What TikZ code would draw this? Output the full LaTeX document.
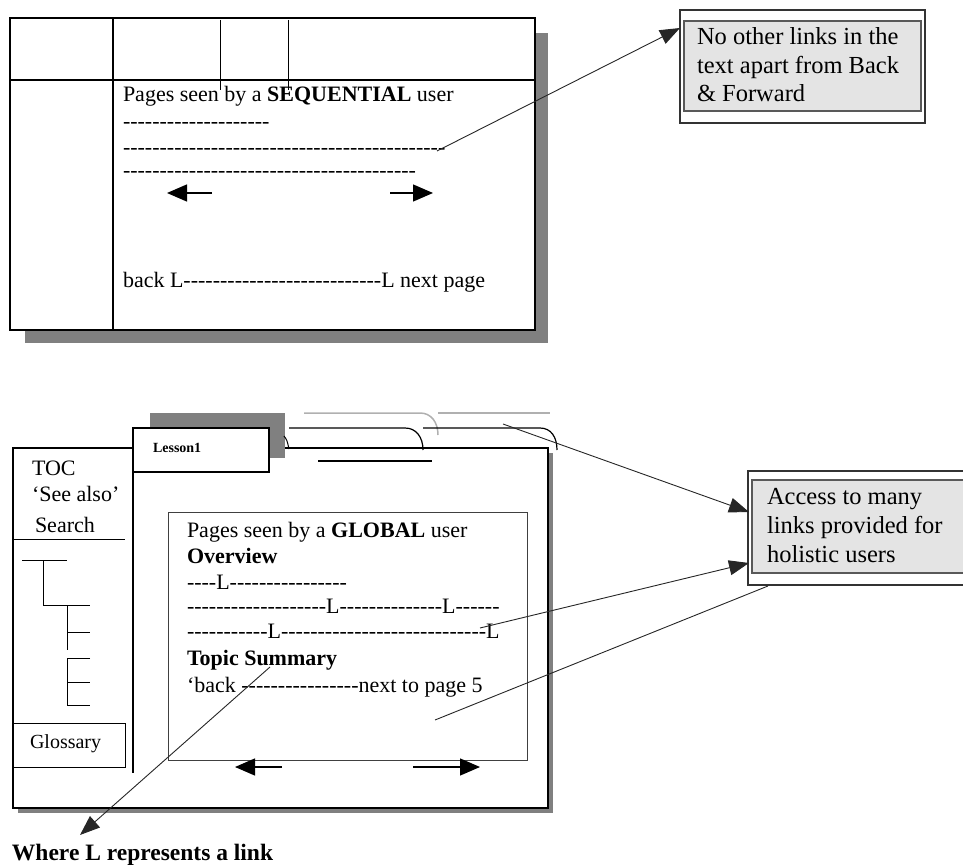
\documentclass[tikz,border=0pt]{standalone}
\usepackage{fontspec}
\setmainfont{Liberation Serif}
\usetikzlibrary{arrows.meta}
\ExplSyntaxOn
\cs_new:Npn \hyrun #1 {\prg_replicate:nn{#1}{-\kern0pt}}
\ExplSyntaxOff
\definecolor{shadowc}{RGB}{128,128,128}
\definecolor{tabgray}{RGB}{176,176,176}
\definecolor{calloutfill}{RGB}{228,228,228}
\begin{document}
\begin{tikzpicture}[x=1pt,y=-1pt,
  frame/.style={draw=black, line width=1.3pt},
  thinframe/.style={draw=black, line width=1pt},
  innerframe/.style={draw=black!75, line width=1pt},
  txt/.style={anchor=base west, inner sep=0pt, outer sep=0pt, font=\fontsize{22}{26}\selectfont},
  smalltxt/.style={txt, font=\fontsize{20}{24}\selectfont},
  ctxt/.style={txt, font=\fontsize{24.5}{29}\selectfont},
  conn/.style={draw=black!85, line width=0.9pt},
  tip/.style={-{Triangle[length=20pt,width=15pt]}},
  bigarrow/.style={draw=black, line width=1.3pt, -{Triangle[length=20pt,width=17pt]}},
  coutbox/.style={draw=black!80, line width=1.5pt, fill=white},
  cinbox/.style={draw=black!65, line width=1.2pt, fill=calloutfill},
  tabline/.style={draw=black, line width=1.2pt},
  tabgrayline/.style={draw=tabgray, line width=1.5pt}
]
\useasboundingbox (0,0) rectangle (963,866);
\clip (0,0) rectangle (963,866);

% ===== Top window (sequential) =====
\fill[shadowc] (25,33) rectangle (548,343);
\draw[frame, fill=white] (10,18) rectangle (535,330);
\draw[frame] (113,18) -- (113,330);
\draw[frame] (10,80) -- (535,80);
\draw[thinframe] (220,20) -- (220,90);
\draw[thinframe] (288,20) -- (288,90);

\node[txt] (seqtitle) at (123,102) {Pages seen by a \textbf{SEQUENTIAL} user};
\node[txt] (seqd1) at (123,129) {\hyrun{20}};
\node[txt] (seqd2) at (123,155) {\hyrun{44}};
\node[txt] (seqd3) at (123,178) {\hyrun{40}};
\node[txt] (seqback) at (123,288) {back L\hyrun{27}L next page};

\coordinate (sla) at (212,193);
\coordinate (slb) at (167,193);
\coordinate (sra) at (390,193);
\coordinate (srb) at (433,193);
\draw[bigarrow] (sla) -- (slb);
\draw[bigarrow] (sra) -- (srb);

% ===== Callout 1 =====
\draw[coutbox] (680,10) rectangle (925,123);
\draw[cinbox] (684,21) rectangle (921,111);
\node[ctxt] (c1l1) at (697,45) {No other links in the};
\node[ctxt] (c1l2) at (697,74) {text apart from Back};
\node[ctxt] (c1l3) at (697,102) {\& Forward};

\coordinate (c1from) at (437,151);
\coordinate (c1to) at (680,28);
\draw[conn, tip] (c1from) -- (c1to);

% ===== Bottom window (global) =====
\fill[shadowc] (18,453) rectangle (553,813);
\draw[frame, fill=white] (13,448) rectangle (548,808);

% tabs behind
\fill[shadowc] (150,413) rectangle (285,458);
\draw[tabgrayline] (304,413) -- (420,413) .. controls (431,413) and (438,422) .. (438,435);
\draw[tabgrayline] (438,413) -- (550,413);
\draw[tabline] (289,428) -- (405,428) .. controls (416,428) and (423,437) .. (423,450);
\draw[tabline] (423,428) -- (540,428) .. controls (551,428) and (557,437) .. (557,450);
\draw[tabline] (318,461) -- (432,461);
\draw[thinframe] (284,436) .. controls (287,440) .. (289,449);

% Lesson tab
\draw[frame, fill=white] (133,428) rectangle (269,472);
\node[txt, font=\fontsize{14}{16}\selectfont\bfseries] (lesson) at (153,452) {Lesson1};

% TOC panel
\draw[frame] (133,472) -- (133,773);
\node[txt] (toc) at (32,475) {TOC};
\node[txt] (seealso) at (32,501) {‘See also’};
\node[txt] (search) at (35,532) {Search};
\draw[thinframe] (13,539) -- (125,539);
% tree
\draw[thinframe] (22,560) -- (67,560);
\draw[thinframe] (43,560) -- (43,605) -- (90,605);
\draw[thinframe] (67,605) -- (67,650);
\draw[thinframe] (67,632) -- (90,632);
\draw[thinframe] (90,658) -- (67,658) -- (67,705) -- (90,705);
\draw[thinframe] (67,682) -- (90,682);
% Glossary
\draw[thinframe] (13,723) rectangle (125,767);
\node[smalltxt] (glossary) at (30,748) {Glossary};

% inner page
\draw[innerframe] (168,512) rectangle (527,760);
\node[txt] (gtitle) at (187,537) {Pages seen by a \textbf{GLOBAL} user};
\node[txt, font=\fontsize{22}{26}\selectfont\bfseries] (overview) at (187,563) {Overview};
\node[txt] (gl1) at (187,589) {\hyrun{4}L\hyrun{16}};
\node[txt] (gl2) at (187,613) {\hyrun{19}L\hyrun{14}L\hyrun{6}};
\node[txt] (gl3) at (187,638) {\hyrun{11}L\hyrun{28}L};
\node[txt, font=\fontsize{22}{26}\selectfont\bfseries] (topic) at (187,665) {Topic Summary};
\node[txt] (gback) at (187,692) {‘back \hyrun{16}next to page 5};

\coordinate (gla) at (282,767);
\coordinate (glb) at (235,767);
\coordinate (gra) at (413,767);
\coordinate (grb) at (480,767);
\draw[bigarrow] (gla) -- (glb);
\draw[bigarrow] (gra) -- (grb);

% ===== Callout 2 =====
\draw[coutbox] (748,471) rectangle (990,585);
\draw[cinbox] (752,480) rectangle (985,573);
\node[ctxt] (c2l1) at (767,504) {Access to many};
\node[ctxt] (c2l2) at (767,533) {links provided for};
\node[ctxt] (c2l3) at (767,562) {holistic users};

\coordinate (a1from) at (503,424);
\coordinate (a1to) at (749,512);
\coordinate (a2from) at (480,628);
\coordinate (a2to) at (749,563);
\coordinate (a3from) at (435,720);
\coordinate (a3to) at (768,586);
\draw[conn, tip] (a1from) -- (a1to);
\draw[conn, tip] (a2from) -- (a2to);
\draw[conn] (a3from) -- (a3to);

% legend connector
\coordinate (lgfrom) at (270,667);
\coordinate (lgto) at (80,835);
\draw[conn, tip] (lgfrom) -- (lgto);
\node[txt, font=\fontsize{23.5}{28}\selectfont\bfseries] (legend) at (12,860) {Where L represents a link};
\end{tikzpicture}
\end{document}
